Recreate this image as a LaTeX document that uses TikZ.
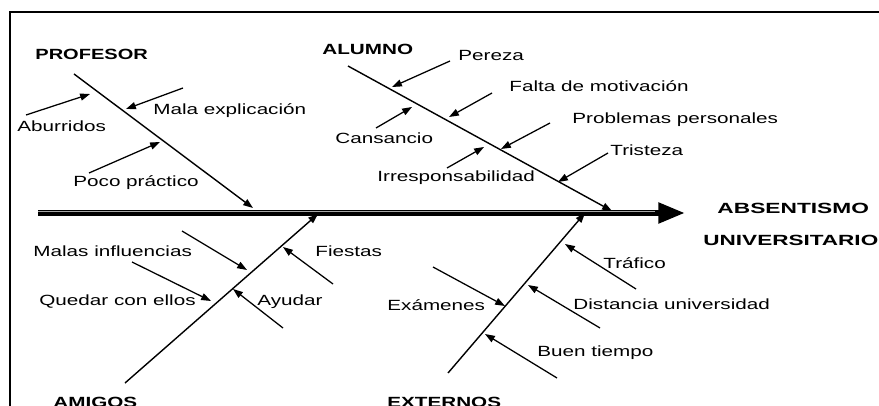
\documentclass[tikz,border=0pt]{standalone}
\usepackage{fontspec}
\setmainfont{Liberation Sans}
\usepackage{tikz}
\usetikzlibrary{positioning, arrows.meta, calc}

\begin{document}
\begin{tikzpicture}[x=0.025cm, y=-0.025cm,
    lbl/.style={anchor=base west, inner sep=0pt, xscale=1.4, font=\fontsize{10.5}{12}\selectfont},
    cat/.style={lbl, font=\fontsize{10.5}{12}\selectfont\bfseries},
    bone/.style={line width=1pt, -{Triangle[length=7pt, width=5pt]}},
    cause/.style={line width=0.9pt, -{Triangle[length=7pt, width=5pt]}}]
  \useasboundingbox (0,0) rectangle (879,406);
  \draw[line width=1pt] (10,412) -- (10,12) -- (885,12);

  % spine
  \coordinate (spA) at (38,213);
  \coordinate (spB) at (685,213);
  \draw[line width=4.3pt, -{Triangle[length=19pt, width=14pt]}] (spA) -- (spB);
  \draw[line width=0.9pt, gray!70] ($(spA)+(0,-1.6)$) -- ($(spB)+(-30,-1.6)$);
  \node[cat, xscale=1.1] (efecto) at (717,214) {ABSENTISMO};
  \node[cat, xscale=1.09] (efecto2) at (703,245) {UNIVERSITARIO};

  % categories
  \node[cat, xscale=0.97] (profesor) at (35,60) {PROFESOR};
  \node[cat] (alumno) at (322,55) {ALUMNO};
  \node[cat] (amigos) at (53,407) {AMIGOS};
  \node[cat] (externos) at (387,407) {EXTERNOS};

  \coordinate (profA) at (74,74);   \coordinate (profB) at (253,208);
  \coordinate (alumA) at (348,66);  \coordinate (alumB) at (612,211);
  \coordinate (amigA) at (125,383); \coordinate (amigB) at (318,214);
  \coordinate (extA) at (448,373);  \coordinate (extB) at (585,213);
  \draw[bone] (profA) -- (profB);
  \draw[bone] (alumA) -- (alumB);
  \draw[bone] (amigA) -- (amigB);
  \draw[bone] (extA) -- (extB);

  % causes
  \node[lbl] (aburridos) at (17,132) {Aburridos};
  \node[lbl] (mala) at (153,115) {Mala explicación};
  \node[lbl] (poco) at (73,187) {Poco práctico};
  \node[lbl] (pereza) at (458,61) {Pereza};
  \node[lbl] (falta) at (509,92) {Falta de motivación};
  \node[lbl] (problemas) at (572,124) {Problemas personales};
  \node[lbl] (tristeza) at (610,156) {Tristeza};
  \node[lbl] (cansancio) at (335,144) {Cansancio};
  \node[lbl] (irresp) at (377,182) {Irresponsabilidad};
  \node[lbl] (malas) at (33,257) {Malas influencias};
  \node[lbl] (quedar) at (39,305) {Quedar con ellos};
  \node[lbl] (fiestas) at (315,257) {Fiestas};
  \node[lbl] (ayudar) at (257,305) {Ayudar};
  \node[lbl] (examenes) at (387,310) {Exámenes};
  \node[lbl] (trafico) at (603,268) {Tráfico};
  \node[lbl] (distancia) at (573,309) {Distancia universidad};
  \node[lbl] (buen) at (537,356) {Buen tiempo};

  \coordinate (c1a) at (26,115);  \coordinate (c1b) at (90,94);
  \coordinate (c2a) at (183,88);  \coordinate (c2b) at (126,109);
  \coordinate (c3a) at (89,173);  \coordinate (c3b) at (160,142);
  \coordinate (c4a) at (450,61);  \coordinate (c4b) at (392,87);
  \coordinate (c5a) at (492,93);  \coordinate (c5b) at (449,117);
  \coordinate (c6a) at (550,123); \coordinate (c6b) at (501,149);
  \coordinate (c7a) at (608,153); \coordinate (c7b) at (558,182);
  \coordinate (c8a) at (376,128); \coordinate (c8b) at (412,107);
  \coordinate (c9a) at (447,168); \coordinate (c9b) at (484,147);
  \coordinate (c10a) at (182,231); \coordinate (c10b) at (247,270);
  \coordinate (c11a) at (132,262); \coordinate (c11b) at (211,301);
  \coordinate (c12a) at (333,284); \coordinate (c12b) at (283,247);
  \coordinate (c13a) at (283,328); \coordinate (c13b) at (233,289);
  \coordinate (c14a) at (433,267); \coordinate (c14b) at (505,306);
  \coordinate (c15a) at (636,289); \coordinate (c15b) at (565,244);
  \coordinate (c16a) at (600,328); \coordinate (c16b) at (528,285);
  \coordinate (c17a) at (557,378); \coordinate (c17b) at (485,334);
  \foreach \i in {1,...,17}
    \draw[cause] (c\i a) -- (c\i b);
\end{tikzpicture}
\end{document}
